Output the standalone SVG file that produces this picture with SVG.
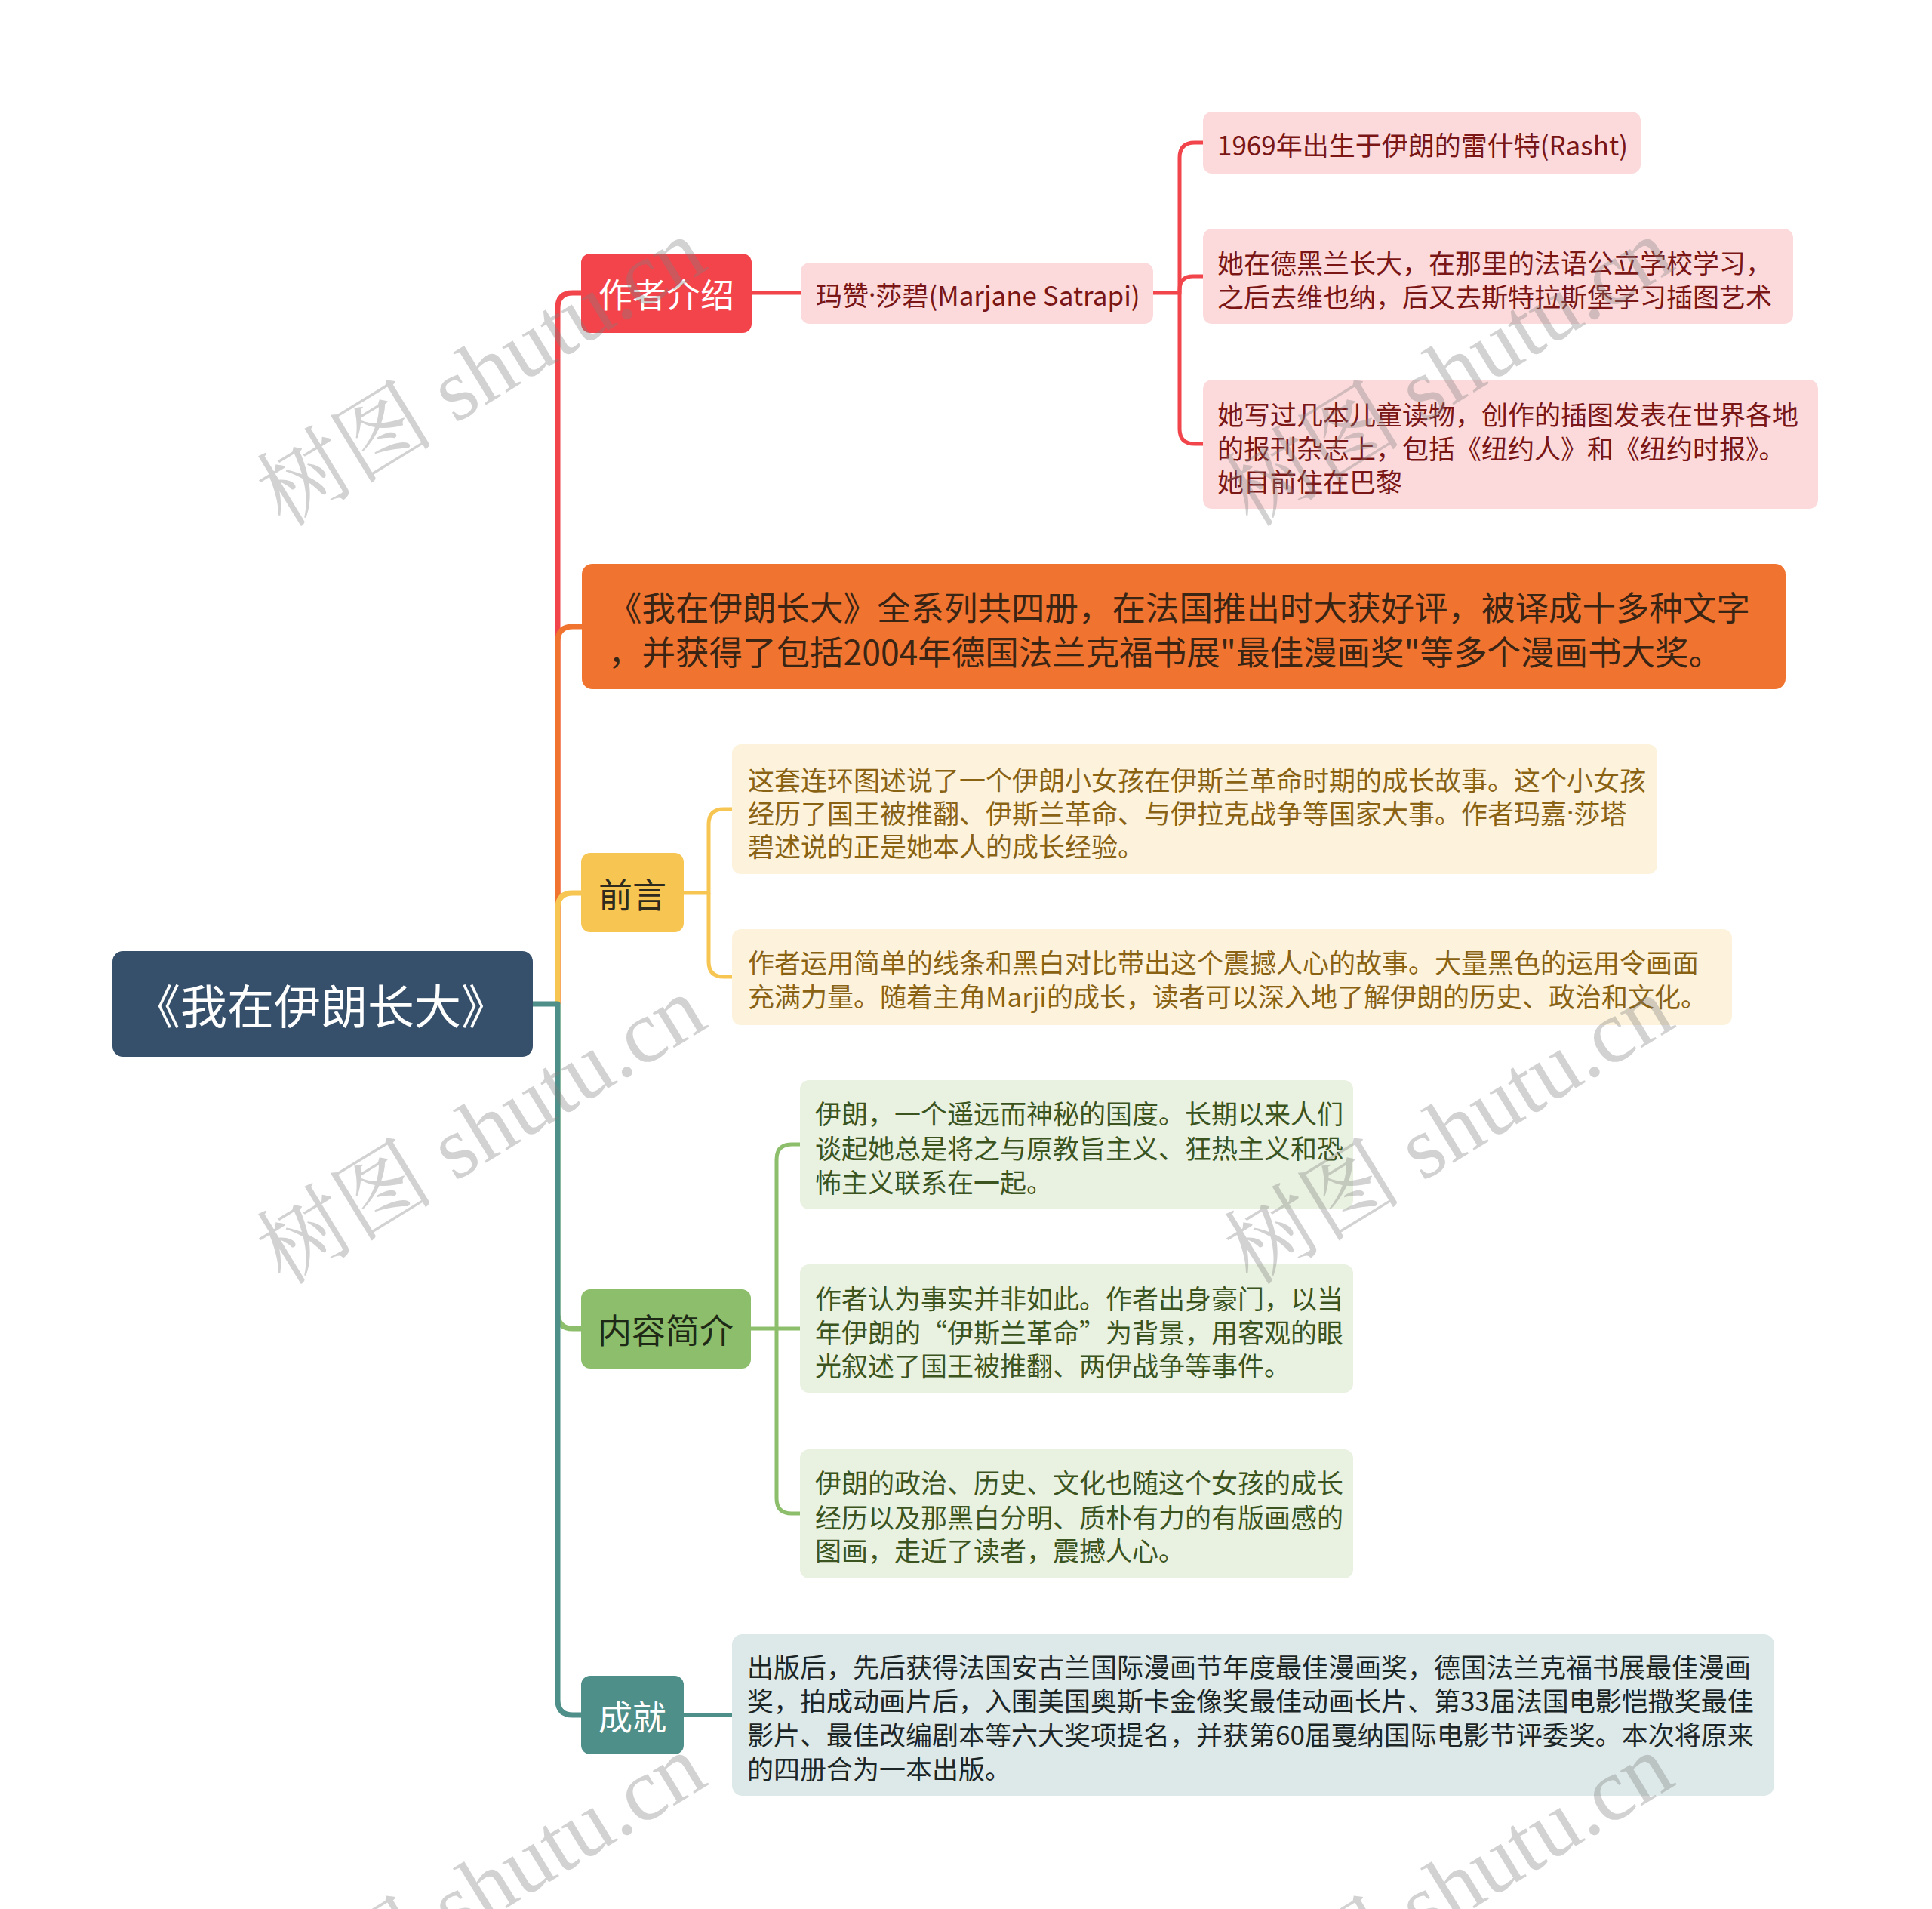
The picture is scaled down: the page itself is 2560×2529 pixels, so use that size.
<svg xmlns="http://www.w3.org/2000/svg" width="2560" height="2529" viewBox="0 0 2560 2529">
<style>
text{font-family:"Noto Sans CJK SC","Noto Sans",sans-serif;dominant-baseline:central}
.lbl{text-anchor:middle}
.c{fill:none;stroke-linejoin:round;stroke-linecap:butt}
.w1{stroke-width:7}
.w2{stroke-width:5}
.leaf{font-size:35px}
.dot{font-family:"Noto Sans","Liberation Sans",sans-serif}
.wm{font-family:"Liberation Serif","Noto Serif CJK SC","Noto Sans CJK SC",serif;font-size:118px;fill:#808080;opacity:0.35;dominant-baseline:auto}
</style>
<rect width="2560" height="2529" fill="#ffffff"/>
<g id="connectors">
<path class="c w1" stroke="#f2444b" d="M739,1330 V408 Q739,388 759,388 H771"/>
<path class="c w1" stroke="#f07430" d="M739,1330 V850 Q739,830 759,830 H772"/>
<path class="c w1" stroke="#f7c652" d="M739,1330 V1203 Q739,1183 759,1183 H771"/>
<path class="c w1" stroke="#8dbe6b" d="M739,1330 V1740 Q739,1760 759,1760 H771"/>
<path class="c w1" stroke="#4f8f8a" d="M706,1330 H739 V2252 Q739,2272 759,2272 H771"/>
<path class="c w2" stroke="#f2444b" d="M995,388 H1062"/>
<path class="c w2" stroke="#f2444b" d="M1527,388 H1563 V209 Q1563,189 1583,189 H1595"/>
<path class="c w2" stroke="#f2444b" d="M1563,388 V384 Q1563,366 1581,366 H1595"/>
<path class="c w2" stroke="#f2444b" d="M1563,388 V568 Q1563,588 1583,588 H1595"/>
<path class="c w2" stroke="#f7c652" d="M905,1183 H939 V1092 Q939,1072 959,1072 H971"/>
<path class="c w2" stroke="#f7c652" d="M939,1183 V1274 Q939,1294 959,1294 H971"/>
<path class="c w2" stroke="#8dbe6b" d="M994,1760 H1061"/>
<path class="c w2" stroke="#8dbe6b" d="M1029,1760 V1536 Q1029,1516 1049,1516 H1061"/>
<path class="c w2" stroke="#8dbe6b" d="M1029,1760 V1985 Q1029,2005 1049,2005 H1061"/>
<path class="c w2" stroke="#4f8f8a" d="M905,2272 H971"/>
</g>
<g id="root">
<rect x="149" y="1260" width="557" height="140" rx="14" fill="#36506b"/>
<text class="lbl" x="425" y="1330" font-size="62" fill="#ffffff">《我在伊朗长大》</text>
</g>
<g id="n-author">
<rect x="770" y="336" width="226" height="105" rx="12" fill="#f3434b"/>
<text class="lbl" x="883" y="388" font-size="45" fill="#ffffff">作者介绍</text>
</g>
<g id="n-marjane">
<rect x="1061" y="348" width="467" height="81" rx="12" fill="#fcdadb"/>
<text class="leaf" x="1081" y="389" fill="#7a1616">玛赞<tspan class="dot">·</tspan>莎碧(Marjane Satrapi)</text>
</g>
<g id="n-a1">
<rect x="1594" y="148" width="580" height="82" rx="12" fill="#fcdadb"/>
<text class="leaf" x="1613" y="190" fill="#7a1616">1969年出生于伊朗的雷什特(Rasht)</text>
</g>
<g id="n-a2">
<rect x="1594" y="303" width="782" height="126" rx="12" fill="#fcdadb"/>
<text class="leaf" fill="#7a1616"><tspan x="1613" y="346">她在德黑兰长大，在那里的法语公立学校学习，</tspan><tspan x="1613" y="391">之后去维也纳，后又去斯特拉斯堡学习插图艺术</tspan></text>
</g>
<g id="n-a3">
<rect x="1594" y="503" width="815" height="171" rx="12" fill="#fcdadb"/>
<text class="leaf" fill="#7a1616"><tspan x="1613" y="547">她写过几本儿童读物，创作的插图发表在世界各地</tspan><tspan x="1613" y="592">的报刊杂志上，包括《纽约人》和《纽约时报》。</tspan><tspan x="1613" y="636">她目前住在巴黎</tspan></text>
</g>
<g id="n-series">
<rect x="771" y="747" width="1595" height="166" rx="14" fill="#f07430"/>
<text font-size="44.5" fill="#3a2414"><tspan x="806" y="802">《我在伊朗长大》全系列共四册，在法国推出时大获好评，被译成十多种文字</tspan><tspan x="806" y="861">，并获得了包括2004年德国法兰克福书展"最佳漫画奖"等多个漫画书大奖。</tspan></text>
</g>
<g id="n-preface">
<rect x="770" y="1130" width="136" height="105" rx="12" fill="#f7c652"/>
<text class="lbl" x="838" y="1183" font-size="45" fill="#2e2a1e">前言</text>
</g>
<g id="n-p1">
<rect x="970" y="986" width="1226" height="172" rx="12" fill="#fdf3dc"/>
<text class="leaf" fill="#8a6214"><tspan x="991" y="1031">这套连环图述说了一个伊朗小女孩在伊斯兰革命时期的成长故事。这个小女孩</tspan><tspan x="991" y="1075">经历了国王被推翻、伊斯兰革命、与伊拉克战争等国家大事。作者玛嘉<tspan class="dot">·</tspan>莎塔</tspan><tspan x="991" y="1119">碧述说的正是她本人的成长经验。</tspan></text>
</g>
<g id="n-p2">
<rect x="970" y="1231" width="1325" height="127" rx="12" fill="#fdf3dc"/>
<text class="leaf" fill="#8a6214"><tspan x="991" y="1273">作者运用简单的线条和黑白对比带出这个震撼人心的故事。大量黑色的运用令画面</tspan><tspan x="991" y="1318">充满力量。随着主角Marji的成长，读者可以深入地了解伊朗的历史、政治和文化。</tspan></text>
</g>
<g id="n-content">
<rect x="770" y="1708" width="225" height="105" rx="12" fill="#8dbe6b"/>
<text class="lbl" x="882" y="1760" font-size="45" fill="#1f2a16">内容简介</text>
</g>
<g id="n-c1">
<rect x="1060" y="1431" width="733" height="171" rx="12" fill="#e9f1e1"/>
<text class="leaf" fill="#3b5420"><tspan x="1080" y="1473">伊朗，一个遥远而神秘的国度。长期以来人们</tspan><tspan x="1080" y="1519">谈起她总是将之与原教旨主义、狂热主义和恐</tspan><tspan x="1080" y="1564">怖主义联系在一起。</tspan></text>
</g>
<g id="n-c2">
<rect x="1060" y="1675" width="733" height="170" rx="12" fill="#e9f1e1"/>
<text class="leaf" fill="#3b5420"><tspan x="1080" y="1718">作者认为事实并非如此。作者出身豪门，以当</tspan><tspan x="1080" y="1763">年伊朗的“伊斯兰革命”为背景，用客观的眼</tspan><tspan x="1080" y="1807">光叙述了国王被推翻、两伊战争等事件。</tspan></text>
</g>
<g id="n-c3">
<rect x="1060" y="1920" width="733" height="171" rx="12" fill="#e9f1e1"/>
<text class="leaf" fill="#3b5420"><tspan x="1080" y="1962">伊朗的政治、历史、文化也随这个女孩的成长</tspan><tspan x="1080" y="2008">经历以及那黑白分明、质朴有力的有版画感的</tspan><tspan x="1080" y="2052">图画，走近了读者，震撼人心。</tspan></text>
</g>
<g id="n-achieve">
<rect x="770" y="2220" width="136" height="104" rx="12" fill="#4f8f8a"/>
<text class="lbl" x="838" y="2272" font-size="45" fill="#ffffff">成就</text>
</g>
<g id="n-ach1">
<rect x="970" y="2165" width="1381" height="214" rx="14" fill="#dce9e8"/>
<text class="leaf" fill="#1c2626"><tspan x="990" y="2206">出版后，先后获得法国安古兰国际漫画节年度最佳漫画奖，德国法兰克福书展最佳漫画</tspan><tspan x="990" y="2251">奖，拍成动画片后，入围美国奥斯卡金像奖最佳动画长片、第33届法国电影恺撒奖最佳</tspan><tspan x="990" y="2296">影片、最佳改编剧本等六大奖项提名，并获第60届戛纳国际电影节评委奖。本次将原来</tspan><tspan x="990" y="2341">的四册合为一本出版。</tspan></text>
</g>
<g id="watermarks">
<text class="wm" transform="translate(376,700) rotate(-31.4)">树图 shutu.cn</text>
<text class="wm" transform="translate(1658,700) rotate(-31.4)">树图 shutu.cn</text>
<text class="wm" transform="translate(376,1704) rotate(-31.4)">树图 shutu.cn</text>
<text class="wm" transform="translate(1658,1704) rotate(-31.4)">树图 shutu.cn</text>
<text class="wm" transform="translate(376,2708) rotate(-31.4)">树图 shutu.cn</text>
<text class="wm" transform="translate(1658,2708) rotate(-31.4)">树图 shutu.cn</text>
</g>
</svg>
